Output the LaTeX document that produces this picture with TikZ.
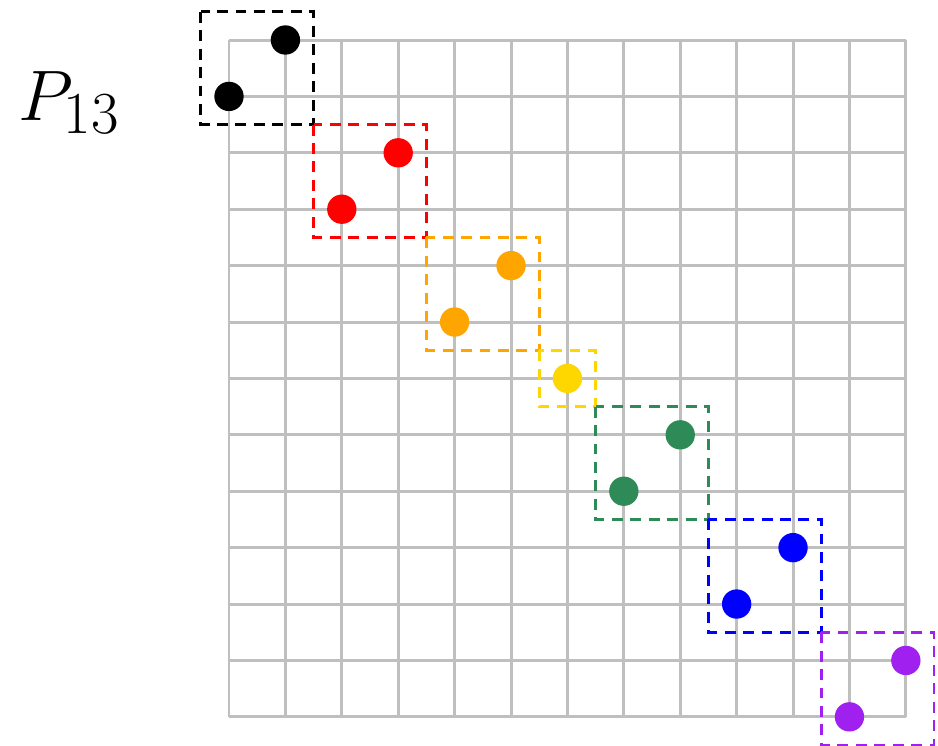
\documentclass[tikz,border=0pt]{standalone}
\usepackage{tikz}
\usetikzlibrary{positioning}
\definecolor{permorange}{RGB}{255,165,0}
\definecolor{permgold}{RGB}{255,215,0}
\definecolor{permgreen}{RGB}{46,139,87}
\definecolor{permpurple}{RGB}{160,32,240}

\begin{document}
\begin{tikzpicture}[
    gridline/.style={draw=gray!50,line width=1.5pt},
    blockbox/.style={dash pattern=on 5.5pt off 3.8pt,line width=1.4pt},
    permdot/.style={circle,inner sep=0pt,minimum size=0.52cm}]
        \useasboundingbox (-4.06,0.709) rectangle (12.57,-12.5);
        %% Label
        \node[anchor=base west,inner sep=0pt,font=\Huge,scale=1.45]
          (label) at (-3.74,-1.42) {$P_{13}$};
        %% Grid
        \draw[gridline] (0,-12) grid (12,0);
        %% Blocks
        \draw[blockbox,draw=black] (-0.5,0.5) rectangle (1.5,-1.5);
        \draw[blockbox,draw=red] (1.5,-1.5) rectangle (3.5,-3.5);
        \draw[blockbox,draw=permorange] (3.5,-3.5) rectangle (5.5,-5.5);
        \draw[blockbox,draw=permgold] (5.5,-5.5) rectangle (6.5,-6.5);
        \draw[blockbox,draw=permgreen] (6.5,-6.5) rectangle (8.5,-8.5);
        \draw[blockbox,draw=blue] (8.5,-8.5) rectangle (10.5,-10.5);
        \draw[blockbox,draw=permpurple] (10.5,-10.5) rectangle (12.5,-12.5);
        %% Points
        \node[permdot,fill=black] (p1) at (1,0) {};
        \node[permdot,fill=black] (p2) at (0,-1) {};
        \node[permdot,fill=red] (p3) at (3,-2) {};
        \node[permdot,fill=red] (p4) at (2,-3) {};
        \node[permdot,fill=permorange] (p5) at (5,-4) {};
        \node[permdot,fill=permorange] (p6) at (4,-5) {};
        \node[permdot,fill=permgold] (p7) at (6,-6) {};
        \node[permdot,fill=permgreen] (p8) at (8,-7) {};
        \node[permdot,fill=permgreen] (p9) at (7,-8) {};
        \node[permdot,fill=blue] (p10) at (10,-9) {};
        \node[permdot,fill=blue] (p11) at (9,-10) {};
        \node[permdot,fill=permpurple] (p12) at (12,-11) {};
        \node[permdot,fill=permpurple] (p13) at (11,-12) {};
      \end{tikzpicture}
\end{document}
